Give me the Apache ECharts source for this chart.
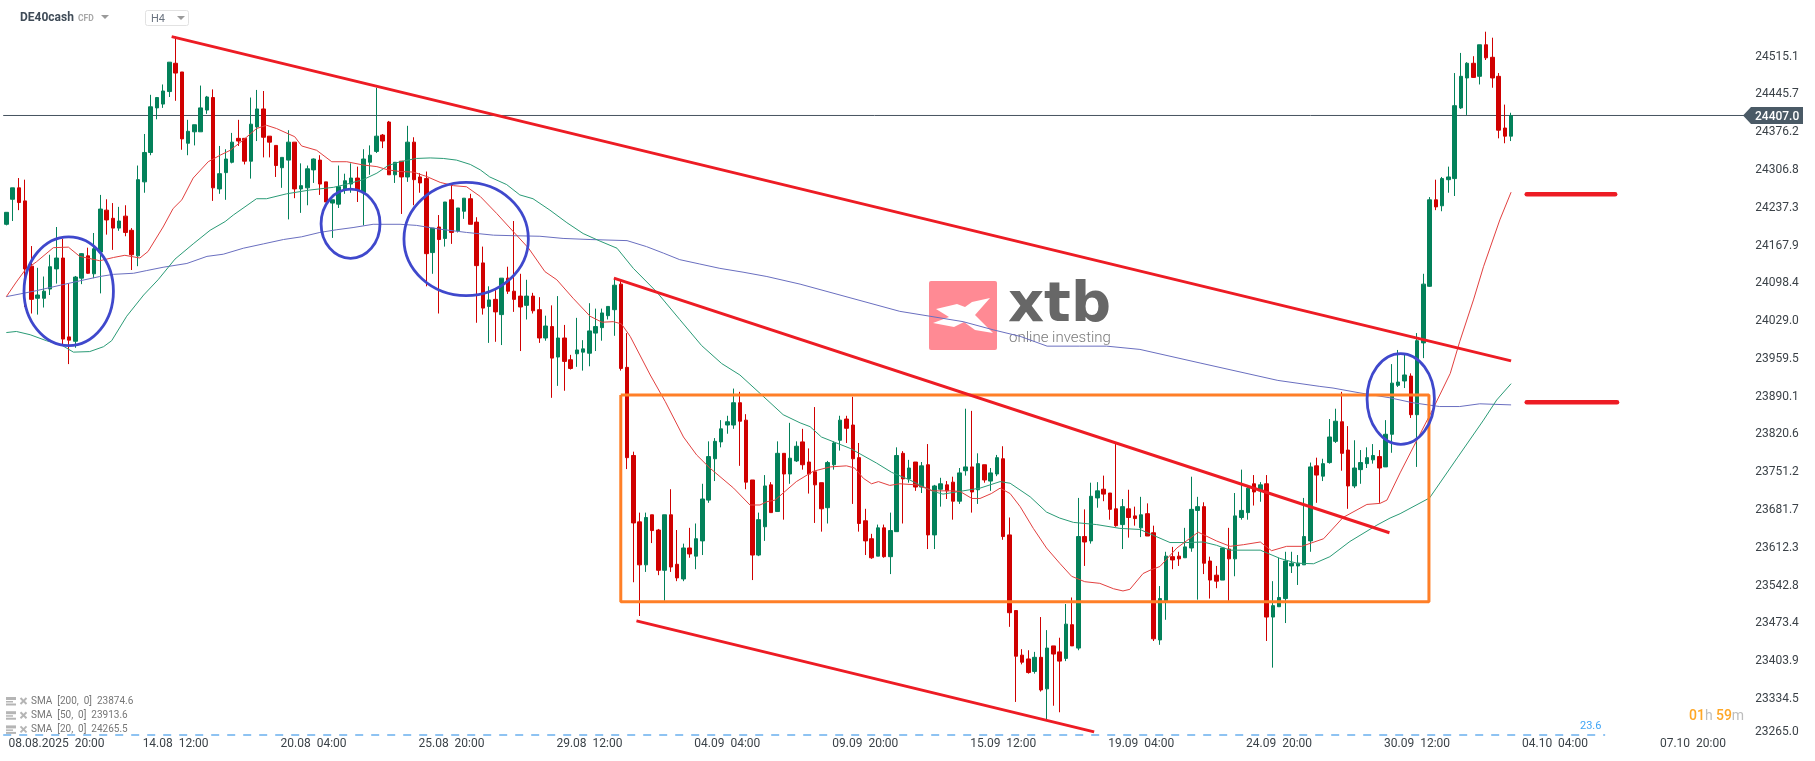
<!DOCTYPE html>
<html>
<head>
<meta charset="utf-8">
<style>html,body{margin:0;padding:0;background:#fff}#c{width:1815px;height:761px}</style>
<script src="https://cdn.jsdelivr.net/npm/echarts@6/dist/echarts.min.js"></script>
</head>
<body>
<div id="c"></div>
<script>
// Each candle: [open, close, low, high]
const candles = [
[24207,24229,24205,24229],[24253,24274,24213,24274],[24274,24247,24233,24292],[24250,24125,24055,24289],[24130,24069,24043,24167],
[24071,24077,24041,24127],[24071,24084,24054,24111],[24088,24129,24077,24151],[24125,24145,24098,24202],[24145,23996,23985,24180],
[24000,23994,23950,24098],[23992,24110,23980,24112],[24108,24153,24097,24154],[24149,24117,24116,24164],[24116,24162,24108,24191],
[24156,24235,24080,24261],[24233,24215,24188,24253],[24218,24200,24160,24246],[24200,24213,24195,24239],[24222,24192,24185,24242],
[24196,24151,24123,24200],[24149,24289,24130,24315],[24285,24339,24265,24373],[24339,24423,24334,24445],[24421,24440,24400,24441],
[24428,24452,24421,24464],[24451,24505,24441,24505],[24503,24485,24434,24552],[24487,24364,24344,24487],[24356,24378,24334,24399],
[24377,24390,24352,24390],[24377,24421,24377,24462],[24417,24441,24410,24443],[24440,24274,24250,24455],[24272,24300,24263,24351],
[24302,24327,24252,24345],[24321,24358,24319,24375],[24365,24360,24351,24399],[24365,24323,24317,24365],[24323,24391,24291,24440],
[24386,24419,24360,24454],[24419,24367,24330,24452],[24369,24358,24330,24369],[24352,24315,24294,24352],[24311,24330,24274,24330],
[24325,24358,24216,24380],[24358,24272,24255,24358],[24272,24278,24228,24319],[24274,24309,24242,24315],[24307,24327,24283,24328],
[24325,24281,24261,24334],[24285,24248,24248,24285],[24246,24252,24182,24252],[24244,24276,24237,24315],[24270,24287,24263,24300],
[24281,24292,24265,24319],[24292,24270,24248,24313],[24265,24327,24205,24345],[24321,24334,24298,24352],[24341,24369,24338,24458],
[24371,24360,24347,24373],[24395,24298,24298,24397],[24298,24321,24283,24321],[24323,24294,24226,24323],[24294,24358,24285,24388],
[24358,24289,24242,24367],[24294,24283,24265,24301],[24291,24153,24093,24304],[24155,24200,24116,24200],[24202,24179,24043,24224],
[24181,24248,24166,24248],[24252,24192,24171,24280],[24195,24237,24192,24237],[24231,24255,24217,24255],[24254,24207,24207,24263],
[24211,24131,24026,24220],[24136,24053,24041,24166],[24056,24068,23989,24093],[24069,24046,23991,24086],[24041,24108,23985,24108],
[24108,24084,24079,24129],[24084,24069,24046,24213],[24075,24055,23974,24116],[24058,24075,24032,24105],[24075,24048,24043,24081],
[24050,23998,23989,24073],[23998,24020,23993,24039],[24019,23961,23888,24058],[23963,23998,23910,24075],[23998,23955,23901,24022],
[23958,23942,23940,23967],[23969,23976,23945,24035],[23972,23978,23938,23994],[23970,24011,23946,24062],[24007,24019,23974,24052],
[24017,24044,23993,24052],[24039,24056,24032,24056],[24050,24095,24002,24108],[24097,23942,23938,24105],[23944,23778,23757,24007],
[23782,23658,23549,23789],[23660,23581,23487,23677],[23581,23668,23568,23677],[23673,23644,23621,23673],[23645,23571,23562,23647],
[23571,23673,23515,23673],[23673,23577,23568,23720],[23582,23557,23551,23645],[23555,23612,23551,23620],[23612,23601,23594,23649],
[23597,23629,23573,23657],[23625,23702,23599,23730],[23700,23780,23695,23808],[23776,23808,23735,23814],[23807,23831,23797,23847],
[23838,23844,23822,23855],[23838,23879,23831,23905],[23879,23845,23763,23899],[23847,23733,23720,23858],[23737,23599,23553,23737],
[23599,23664,23597,23677],[23651,23726,23625,23746],[23728,23677,23677,23733],[23679,23786,23679,23808],[23786,23748,23664,23786],
[23748,23777,23730,23842],[23772,23799,23770,23808],[23807,23765,23756,23831],[23770,23748,23712,23795],[23752,23728,23658,23871],
[23732,23684,23642,23732],[23686,23769,23657,23772],[23765,23805,23756,23808],[23810,23847,23791,23855],[23849,23832,23805,23855],
[23838,23776,23693,23890],[23778,23657,23642,23805],[23662,23625,23599,23684],[23629,23594,23592,23638],[23597,23649,23597,23655],
[23649,23596,23594,23655],[23596,23644,23564,23677],[23642,23782,23642,23797],[23786,23739,23657,23790],[23739,23759,23732,23774],
[23770,23724,23717,23770],[23724,23763,23713,23770],[23765,23636,23610,23803],[23636,23726,23610,23728],[23720,23730,23688,23741],
[23728,23717,23702,23735],[23733,23698,23664,23743],[23698,23750,23693,23759],[23754,23761,23745,23868],[23761,23715,23677,23864],
[23719,23767,23693,23786],[23765,23737,23732,23765],[23735,23750,23717,23759],[23748,23778,23744,23783],[23776,23633,23627,23799],
[23636,23493,23467,23668],[23497,23413,23329,23497],[23415,23402,23398,23426],[23408,23383,23381,23424],[23385,23411,23381,23421],
[23411,23351,23348,23485],[23353,23428,23296,23461],[23432,23417,23322,23432],[23421,23404,23310,23447],[23409,23472,23404,23509],
[23471,23432,23432,23521],[23428,23633,23424,23704],[23633,23623,23579,23683],[23625,23707,23620,23732],[23704,23717,23686,23733],
[23720,23711,23698,23745],[23713,23683,23664,23713],[23684,23653,23651,23803],[23655,23688,23610,23702],[23684,23668,23631,23719],
[23671,23666,23653,23688],[23649,23673,23632,23706],[23675,23634,23634,23694],[23640,23445,23441,23653],[23443,23519,23434,23542],
[23515,23597,23480,23605],[23596,23590,23573,23614],[23597,23592,23579,23605],[23594,23614,23594,23649],[23612,23683,23605,23743],
[23681,23688,23517,23706],[23688,23584,23564,23696],[23588,23553,23519,23596],[23562,23551,23538,23579],[23553,23612,23553,23612],
[23610,23592,23515,23649],[23592,23671,23560,23713],[23668,23681,23664,23756],[23677,23722,23664,23726],[23730,23715,23690,23746],
[23717,23728,23697,23733],[23730,23485,23441,23746],[23485,23506,23392,23551],[23504,23521,23504,23594],[23519,23588,23474,23605],
[23579,23584,23566,23605],[23579,23584,23544,23599],[23581,23633,23581,23704],[23625,23761,23605,23769],[23763,23746,23695,23778],
[23744,23767,23735,23776],[23769,23816,23767,23849],[23808,23845,23805,23868],[23844,23786,23754,23899],[23792,23726,23684,23836],
[23726,23759,23722,23810],[23756,23769,23730,23792],[23767,23778,23759,23797],[23774,23782,23767,23803],[23780,23759,23695,23792],
[23761,23821,23761,23847],[23821,23915,23787,23950],[23911,23917,23908,23976],[23919,23930,23906,23967],[23928,23857,23851,23933],
[23857,23993,23761,24007],[23989,24097,23961,24116],[24093,24252,24092,24257],[24252,24239,24233,24289],[24241,24291,24231,24294],
[24289,24294,24265,24313],[24291,24425,24259,24485],[24421,24479,24419,24522],[24476,24503,24408,24505],[24503,24477,24476,24516],
[24479,24537,24464,24537],[24537,24513,24509,24561],[24514,24476,24458,24550],[24479,24380,24365,24485],[24384,24369,24356,24427],
[24369,24407,24360,24412]
];

// Moving averages read at sampled bars: [bar position, price]
const sma20 = [[0,24074],[1.6,24101],[3,24123],[4.8,24138],[7.5,24164],[9.9,24165],[11.7,24148],[14.9,24140],[17.1,24146],[18.9,24150],[21.3,24145],[22.6,24157],[25,24202],[26.6,24236],[28,24252],[29.8,24292],[32.2,24322],[34.1,24334],[35.7,24343],[37.8,24362],[39.9,24383],[41.5,24389],[43.1,24383],[46,24368],[47.1,24351],[49.5,24343],[51.9,24322],[54.3,24322],[56.9,24316],[59.1,24313],[60.9,24307],[62.8,24304],[64.9,24303],[67,24295],[69.2,24284],[71.3,24278],[73.4,24276],[75.6,24258],[78.2,24227],[80.9,24193],[83.3,24163],[85.9,24120],[87.8,24105],[90.4,24071],[93.1,24038],[95,24027],[96.8,24028],[98.1,24024],[99.5,24001],[102.7,23930],[105.1,23881],[108,23816],[110.1,23783],[112.2,23759],[116,23722],[118.6,23691],[120.2,23691],[121.3,23697],[122.6,23700],[124.2,23716],[126,23734],[128.7,23753],[131.4,23761],[134,23763],[135.3,23759],[136.7,23740],[138,23730],[139.1,23734],[140.9,23727],[142.5,23730],[145.2,23728],[147.8,23717],[150.5,23717],[152.1,23716],[154,23703],[155.3,23703],[157.1,23712],[158.5,23722],[160.1,23712],[161.7,23688],[163.8,23648],[165.9,23612],[168,23584],[169.9,23560],[172,23550],[174.4,23547],[176.6,23537],[178.1,23533],[179.2,23536],[181.3,23565],[182.4,23571],[184,23578],[186.7,23612],[190.1,23641],[193,23625],[195.2,23615],[197.3,23618],[200,23623],[201.8,23607],[204.2,23615],[206.6,23615],[210.1,23629],[213.2,23668],[217,23692],[219.1,23694],[220.2,23700],[222.3,23750],[227.6,23869],[230.3,23933],[231.8,23991],[234,24068],[235.6,24129],[238.2,24215],[240,24266]];
const sma50 = [[0,24008],[1.6,24010],[3.8,24004],[6.4,23993],[8.8,23985],[10.7,23972],[13.3,23973],[15.5,23982],[16.8,23993],[19.2,24038],[21.9,24077],[24.2,24105],[26.9,24143],[29.8,24171],[32.5,24196],[34.9,24212],[36.2,24224],[39.9,24254],[41.5,24254],[44.7,24263],[48.4,24270],[52.2,24275],[53.7,24279],[56.9,24289],[59.1,24301],[60.9,24315],[62.8,24322],[65.4,24328],[67.6,24329],[69.7,24328],[71.8,24325],[74,24317],[75.6,24307],[77.1,24294],[79.8,24280],[81.9,24261],[84,24254],[86.7,24233],[89.4,24210],[92,24190],[94.7,24176],[97.4,24163],[100,24126],[103.7,24083],[107.4,24032],[110.9,23984],[114.1,23951],[117,23930],[120.7,23891],[123.9,23857],[126.6,23842],[128.2,23835],[130,23816],[134.6,23795],[138.8,23768],[141.2,23751],[144.1,23737],[147.8,23716],[149.4,23711],[152.6,23717],[155.3,23722],[158.5,23734],[160.1,23731],[163.3,23706],[165.9,23678],[168,23667],[170.2,23659],[173.9,23655],[177.6,23648],[180.8,23646],[183,23635],[185.6,23622],[188.3,23622],[190.9,23623],[193,23617],[195.2,23608],[200,23608],[203.1,23593],[205.8,23584],[208.5,23583],[211.1,23596],[214.3,23624],[218.6,23654],[220.7,23667],[222.3,23675],[227,23704],[231.5,23779],[235.6,23847],[237.7,23884],[240,23914]];
const sma200 = [[0,24074],[2.2,24079],[4.8,24085],[8.6,24095],[11.7,24103],[14.9,24111],[17.1,24115],[20.3,24117],[22.4,24122],[25,24128],[28.8,24135],[32,24148],[34.6,24152],[37.8,24163],[41,24171],[44.2,24179],[47.1,24184],[50,24192],[52.7,24197],[55.3,24201],[58.5,24207],[62.8,24207],[65.4,24205],[69.2,24198],[73.4,24192],[77.7,24187],[80.9,24186],[85.1,24185],[88.8,24181],[93.1,24179],[99,24177],[102.1,24166],[104.8,24154],[107.4,24142],[110.6,24134],[113.8,24126],[117.5,24119],[121.3,24111],[126.6,24097],[142.5,24047],[147.3,24038],[152.6,24028],[157.4,24013],[161.7,24001],[166,23983],[171.2,23983],[175.5,23983],[180.8,23977],[190.4,23952],[202.8,23920],[209.5,23909],[211.6,23906],[215.9,23897],[220.7,23888],[224.3,23879],[228.6,23872],[231.8,23872],[235,23877],[240,23875]];

// Hand-drawn annotations: [bar position, price]
const trendUpper = [[26.37,24552],[240,23956]];
const trendMiddle = [[96.9,24108],[220.6,23640]];
const trendLower = [[100.5,23478],[173.5,23274]];
const levelHigh = [[242.5,24262],[256.6,24262]];
const levelLow = [[242.5,23880],[256.9,23880]];
const rangeBox = [[98,23893],[226.9,23893],[226.9,23513],[98,23513],[98,23893]];
// [bar position, price, radius in bars, radius in price]
const circles = [[9.95,24084,7.13,100],[54.9,24208,4.7,63.5],[73.34,24180,9.92,104],[222.4,23886,5.37,83.4]];

const lastPrice = 24407.0;
const fibLevel = 23268.2;
const yTicks = [24515.1,24445.7,24376.2,24306.8,24237.3,24167.9,24098.4,24029.0,23959.5,23890.1,23820.6,23751.2,23681.7,23612.3,23542.8,23473.4,23403.9,23334.5];
const yBottomLabel = '23265.0';
const tickLabels = ['08.08.2025  20:00','14.08  12:00','20.08  04:00','25.08  20:00','29.08  12:00','04.09  04:00','09.09  20:00','15.09  12:00','19.09  04:00','24.09  20:00','30.09  12:00','04.10  04:00','07.10  20:00'];
const tickBars = [8,27,49,71,93,115,137,159,181,203,225,247,269];
const smaLegend = ['SMA  [200,  0]  23874.6','SMA  [50,  0]  23913.6','SMA  [20,  0]  24265.5'];

const BAR_SLOTS = 278;
const categories = new Array(BAR_SLOTS).fill('');
tickBars.forEach((b, i) => { categories[b] = tickLabels[i]; });

const FONT = 'Roboto, sans-serif';
const overlay = (name, data, color, width, z, extra) => Object.assign({
  name, type: 'line', xAxisIndex: 1, yAxisIndex: 0, data, symbol: 'none', silent: true, clip: false, z,
  lineStyle: { color, width }
}, extra || {});

const txt = (x, y, text, font, fill, extra) => ({
  type: 'text', x, y, z: 0, silent: true,
  style: Object.assign({ text, font, fill, textVerticalAlign: 'middle', textAlign: 'left' }, extra || {})
});
const tri = (x, y) => ({ type: 'polygon', z: 0, silent: true, shape: { points: [[x, y], [x + 8, y], [x + 4, y + 4]] }, style: { fill: '#9a9a9a' } });

const graphics = [
  // Watermark
  { type: 'rect', z: 0, silent: true, shape: { x: 929, y: 281, width: 68, height: 69, r: 2 }, style: { fill: '#ff8a94' } },
  { type: 'polygon', z: 0, silent: true, shape: { points: [[936,309],[957,304],[965,307],[972,302],[990,298],[975,315],[993,333],[975,330],[964,322],[954,327],[933,323],[949,317]] }, style: { fill: '#ffffff' } },
  txt(1008, 306, 'xtb', 'bold 56px "DejaVu Sans"', '#676767'),
  txt(1009, 338, 'online investing', '300 15px Roboto', '#7a7a7a'),
  // Header
  txt(20, 18, 'DE40cash', 'bold 12px ' + FONT, '#3f4b57'),
  txt(78, 19, 'CFD', 'bold 8.5px ' + FONT, '#a8a8a8'),
  tri(101, 15),
  { type: 'rect', z: 0, silent: true, shape: { x: 145.5, y: 10.5, width: 43, height: 15, r: 2 }, style: { fill: '#fff', stroke: '#e2e2e2', lineWidth: 1 } },
  txt(151, 19, 'H4', '11px ' + FONT, '#6b7480'),
  tri(177, 16),
  // Bottom price label, held inside the plot by the platform
  txt(1755, 732, yBottomLabel, '12px ' + FONT, '#3b4248'),
  // Price tag
  { type: 'polygon', z: 100, silent: true, shape: { points: [[1743,115.5],[1751,107],[1803,107],[1803,124],[1751,124]] }, style: { fill: '#4a5a66' } },
  { type: 'text', z: 101, x: 1755, y: 116.5, silent: true, style: { text: lastPrice.toFixed(1), font: '500 12px ' + FONT, fill: '#ffffff', textVerticalAlign: 'middle' } },
  // Fibonacci label
  txt(1580, 726, '23.6', '11px ' + FONT, '#42a5f5'),
  // Countdown
  { type: 'text', x: 1689, y: 716, z: 0, silent: true, style: {
      text: '{a|01}{b|h} {a|59}{b|m}', textVerticalAlign: 'middle',
      rich: { a: { font: '500 14px ' + FONT, fill: '#ffa726' }, b: { font: '14px ' + FONT, fill: '#bdbdbd' } } } }
];
// Indicator legend rows
smaLegend.forEach((label, i) => {
  const y = 701 + i * 14.2;
  graphics.push(
    { type: 'rect', z: 0, silent: true, shape: { x: 6, y: y - 4, width: 10, height: 3 }, style: { fill: '#b5b5b5' } },
    { type: 'rect', z: 0, silent: true, shape: { x: 6, y: y, width: 7, height: 1.5 }, style: { fill: '#b5b5b5' } },
    { type: 'rect', z: 0, silent: true, shape: { x: 6, y: y + 2.5, width: 10, height: 2 }, style: { fill: '#b5b5b5' } },
    { type: 'line', z: 0, silent: true, shape: { x1: 20.5, y1: y - 3, x2: 26.5, y2: y + 3 }, style: { stroke: '#b5b5b5', lineWidth: 2 } },
    { type: 'line', z: 0, silent: true, shape: { x1: 26.5, y1: y - 3, x2: 20.5, y2: y + 3 }, style: { stroke: '#b5b5b5', lineWidth: 2 } },
    txt(31, y + 0.5, label, '10px ' + FONT, '#777777')
  );
});

const option = {
  animation: false,
  backgroundColor: '#ffffff',
  graphic: { elements: graphics },
  grid: { left: 3.2, top: 0, width: 1743, height: 735, containLabel: false },
  xAxis: [
    { type: 'category', data: categories, boundaryGap: true, axisLine: { show: false }, axisTick: { show: false }, splitLine: { show: false },
      axisLabel: { interval: 0, hideOverlap: false, margin: 3, color: '#3b4248', fontFamily: FONT, fontSize: 12 } },
    { type: 'value', min: -0.5, max: BAR_SLOTS - 0.5, show: false }
  ],
  yAxis: [{
    type: 'value', position: 'right', min: fibLevel, max: 24619.3,
    axisLine: { show: false }, axisTick: { show: false }, splitLine: { show: false },
    axisLabel: { customValues: yTicks, margin: 9, color: '#3b4248', fontFamily: FONT, fontSize: 12, padding: [1, 0, 0, 0], formatter: v => Number(v).toFixed(1) }
  }],
  series: [
    overlay('Price', [[-0.5, lastPrice], [BAR_SLOTS - 0.5, lastPrice]], '#46535f', 1, 1),
    overlay('Fib 23.6', [[-0.5, fibLevel], [255, fibLevel]], '#1e88e5', 1.2, 1, { lineStyle: { color: '#1e88e5', width: 1.2, type: [8, 8] } }),
    { name: 'DE40cash', type: 'candlestick', xAxisIndex: 0, yAxisIndex: 0, data: candles, barWidth: 4, z: 2, silent: true, clip: false,
      itemStyle: { color: '#03815a', color0: '#d00000', borderColor: '#03815a', borderColor0: '#d00000', borderWidth: 1 } },
    overlay('SMA 200', sma200, '#6a6fc0', 1, 3),
    overlay('SMA 50', sma50, '#2a9b76', 1, 3),
    overlay('SMA 20', sma20, '#e2403f', 1, 3),
    overlay('Range', rangeBox, '#ff7f27', 3, 4),
    overlay('Trend upper', trendUpper, '#ed1c24', 3, 5),
    overlay('Trend middle', trendMiddle, '#ed1c24', 3, 5),
    overlay('Trend lower', trendLower, '#ed1c24', 3, 5),
    overlay('Level high', levelHigh, '#ed1c24', 4.5, 5, { lineStyle: { color: '#ed1c24', width: 4.5, cap: 'round' } }),
    overlay('Level low', levelLow, '#ed1c24', 4.5, 5, { lineStyle: { color: '#ed1c24', width: 4.5, cap: 'round' } }),
    { name: 'Circles', type: 'custom', xAxisIndex: 1, yAxisIndex: 0, data: circles, z: 6, silent: true, encode: { x: 0, y: 1 },
      renderItem: (params, api) => {
        const c = api.coord([api.value(0), api.value(1)]);
        const s = api.size([api.value(2), api.value(3)], [api.value(0), api.value(1)]);
        return { type: 'ellipse', shape: { cx: c[0], cy: c[1], rx: s[0], ry: s[1] }, style: { fill: 'none', stroke: '#3f48cc', lineWidth: 2.8 } };
      } }
  ]
};
echarts.init(document.getElementById('c'), null, { renderer: 'canvas' }).setOption(option);
</script>
</body>
</html>
